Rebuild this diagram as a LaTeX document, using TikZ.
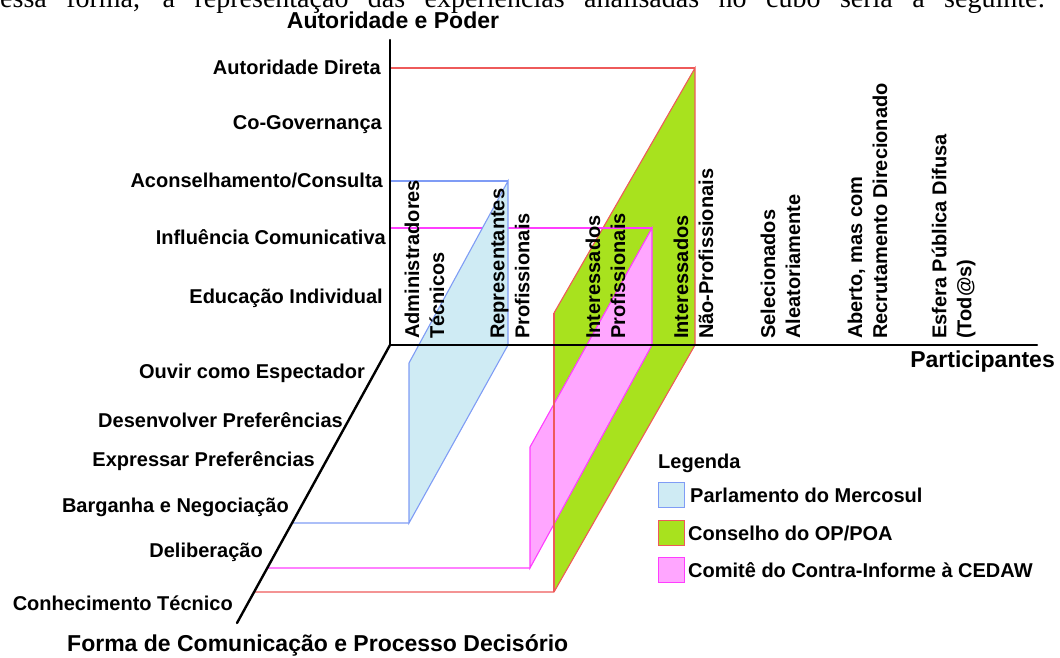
\documentclass[tikz,border=0pt]{standalone}
\usepackage{fontspec}
\setmainfont{Liberation Sans}
\newfontfamily\bodyserif{Liberation Serif}
\usetikzlibrary{calc}

\definecolor{parlFill}{HTML}{CFEBF4}
\definecolor{parlLine}{HTML}{7F9CF5}
\definecolor{opFill}{HTML}{A8E21E}
\definecolor{opLine}{HTML}{EE5A5A}
\definecolor{cedFill}{HTML}{FFA6FF}
\definecolor{cedLine}{HTML}{FF3DFF}

\begin{document}
\begin{tikzpicture}[x=1pt, y=-1pt,
  axis/.style={line width=2.4pt, black, line cap=round},
  edge/.style={line width=1.1pt},
  lbl/.style={font=\fontsize{20}{25}\selectfont\bfseries, inner sep=0pt},
  ttl/.style={font=\fontsize{23}{27}\selectfont\bfseries, inner sep=0pt},
  col/.style={lbl, rotate=90, align=left, anchor=west},
  keybox/.style={line width=1.2pt, minimum width=26pt, minimum height=25pt, inner sep=0pt, anchor=north west}
]
\useasboundingbox (0,0) rectangle (1060,657);

% running text of the page, cut by the top edge
\begin{scope}
  \clip (0,0) rectangle (1060,657);
  \node[anchor=base west, inner sep=0pt] (bodyline) at (0,7)
    {\bodyserif\fontsize{28}{32}\selectfont\spaceskip=.25em plus 1fil
     \hbox to 1045pt{essa forma, a representação das experiências analisadas no cubo seria a seguinte:}};
\end{scope}

% axes end points
\coordinate (O) at (390,345);
\coordinate (Ytop) at (390,40);
\coordinate (Xend) at (1037,345);
\coordinate (Zend) at (237,623);

% feet of the horizontal guide lines on the depth axis
\coordinate (zBlue) at ($(O)!0.6403!(Zend)$);
\coordinate (zCed) at ($(O)!0.8022!(Zend)$);
\coordinate (zOp) at ($(O)!0.8885!(Zend)$);

% Conselho do OP/POA
\coordinate (g1) at (554,313);
\coordinate (g2) at (695,68);
\coordinate (g3) at (695,345);
\coordinate (g4) at (554,592);
\fill[opFill] (g1) -- (g2) -- (g3) -- (g4) -- cycle;
\draw[edge, opLine] (g1) -- (g2) -- (g3) -- (g4);
\draw[edge, opLine] (390,68) -- (g2);
\draw[edge, opLine] (zOp) -- (g4);

% Comite do Contra-Informe
\coordinate (m1) at (530,447);
\coordinate (m2) at (652,228);
\coordinate (m3) at (652,345);
\coordinate (m4) at (530,568);
\fill[cedFill] (m1) -- (m2) -- (m3) -- (m4) -- cycle;
\draw[edge, cedLine] (m1) -- (m2) -- (m3) -- (m4) -- cycle;
\draw[edge, cedLine] (390,228) -- (m2);
\draw[edge, cedLine] (zCed) -- (m4);
% left edge of the OP/POA face stays visible
\draw[edge, opLine] (g1) -- (g4);

% Parlamento do Mercosul
\coordinate (b1) at (409,363);
\coordinate (b2) at (508,181);
\coordinate (b3) at (508,345);
\coordinate (b4) at (409,523);
\fill[parlFill] (b1) -- (b2) -- (b3) -- (b4) -- cycle;
\draw[edge, parlLine] (b1) -- (b2) -- (b3) -- (b4) -- cycle;
\draw[edge, parlLine] (390,181) -- (b2);
\draw[edge, parlLine] (zBlue) -- (b4);

% axes
\draw[axis] (Ytop) -- (O) -- (Xend);
\draw[axis] (O) -- (Zend);

% axis titles
\node[ttl] (tY) at (393,20) {Autoridade e Poder};
\node[ttl, anchor=east] (tX) at (1055,362) {Participantes};
\node[ttl, anchor=west] (tZ) at (67,645) {Forma de Comunicação e Processo Decisório};

% vertical axis levels
\node[lbl, anchor=east] (y1) at (381,67) {Autoridade Direta};
\node[lbl, anchor=east] (y2) at (382,125) {Co-Governança};
\node[lbl, anchor=east] (y3) at (383,180) {Aconselhamento/Consulta};
\node[lbl, anchor=east] (y4) at (386,237) {Influência Comunicativa};
\node[lbl, anchor=east] (y5) at (383,298) {Educação Individual};

% depth axis levels
\node[lbl, anchor=east] (z1) at (365,373) {Ouvir como Espectador};
\node[lbl, anchor=east] (z2) at (343,420) {Desenvolver Preferências};
\node[lbl, anchor=east] (z3) at (315,461) {Expressar Preferências};
\node[lbl, anchor=east] (z4) at (289,507) {Barganha e Negociação};
\node[lbl, anchor=east] (z5) at (263,552) {Deliberação};
\node[lbl, anchor=east] (z6) at (233,603) {Conhecimento Técnico};

% participant columns
\node[col] (c1) at (424.5,339) {Administradores\\Técnicos};
\node[col] (c2) at (510,339) {Representantes\\Profissionais};
\node[col] (c3) at (605.5,339) {Interessados\\Profissionais};
\node[col] (c4) at (693.5,339) {Interessados\\Não-Profissionais};
\node[col] (c5) at (780.5,339) {Selecionados\\Aleatoriamente};
\node[col] (c6) at (867.5,339) {Aberto, mas com\\Recrutamento Direcionado};
\node[col] (c7) at (953.5,339) {Esfera Pública Difusa\\(Tod@s)};

% legend
\node[lbl, anchor=west] (leg) at (658,463) {Legenda};
\node[keybox, draw=parlLine, fill=parlFill] (k1) at (658,482) {};
\node[keybox, draw=opLine, fill=opFill] (k2) at (658,520) {};
\node[keybox, draw=cedLine, fill=cedFill] (k3) at (658,557) {};
\node[lbl, anchor=west] (l1) at (690,495) {Parlamento do Mercosul};
\node[lbl, anchor=west] (l2) at (688,533) {Conselho do OP/POA};
\node[lbl, anchor=west] (l3) at (688,570) {Comitê do Contra-Informe à CEDAW};
\end{tikzpicture}
\end{document}
